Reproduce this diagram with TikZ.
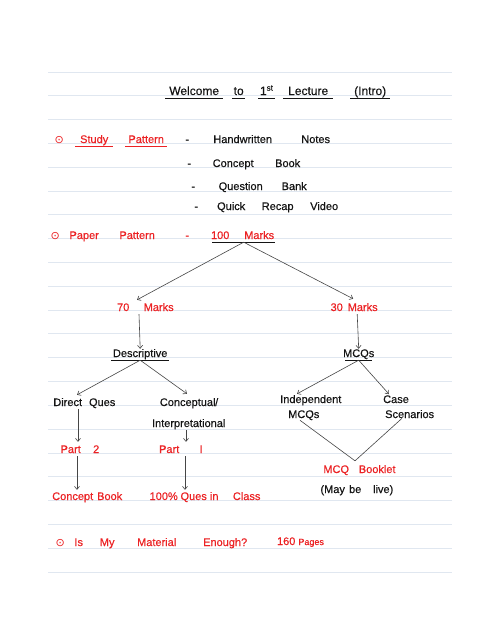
\documentclass[tikz,border=0pt]{standalone}
\usepackage{fontspec}
\setmainfont{Liberation Sans}[FakeBold=0.4]
\newfontfamily\symfont{DejaVu Sans}
\usetikzlibrary{arrows.meta,calc}
\definecolor{ink}{RGB}{20,20,20}
\definecolor{pen}{RGB}{236,34,36}
\definecolor{ruleline}{RGB}{224,231,240}
\definecolor{stroke}{RGB}{70,70,70}
\newcommand{\hw}[2]{\makebox[#1pt][c]{#2}}
\newcommand{\ulw}[1]{\setbox0=\hbox{#1}\rlap{\rule[-4pt]{\wd0}{0.7pt}}\box0}
\newcommand{\bul}{\hw{10}{\symfont ⊙}}
\begin{document}
\begin{tikzpicture}[x=1pt,y=-1pt,
  txt/.style={inner sep=0pt, text height=8pt, text depth=3pt, font=\fontsize{11}{15}\selectfont, text=ink, anchor=base west},
  redtxt/.style={txt, text=pen},
  ml/.style={inner sep=0pt, font=\fontsize{11}{15}\selectfont, text=ink, align=left, anchor=base west},
  ruled/.style={draw=ruleline, line width=0.9pt},
  arr/.style={draw=stroke, line width=0.6pt, -{Straight Barb[length=3pt,width=5pt]}},
  conn/.style={draw=stroke, line width=0.6pt},
  uline/.style={draw=ink, line width=0.8pt}]
\fill[white] (0,0) rectangle (500,627);
\useasboundingbox (0,0) rectangle (500,627);
% ruled paper
\foreach \k in {0,...,21}{
  \pgfmathsetmacro{\yy}{72+23.81*\k}
  \draw[ruled] (48,\yy) -- (452,\yy);
}
% title
\node[txt, font=\fontsize{12}{14}\selectfont] (title) at (165,95) {\ulw{\hw{58}{Welcome}}\hspace{9pt}\ulw{\hw{13}{to}}\hspace{13pt}\ulw{\hw{17}{1\textsuperscript{st}}}\hspace{8pt}\ulw{\hw{50}{Lecture}}\hspace{17pt}\ulw{\hw{40}{(Intro)}}};
% study pattern
\node[redtxt] (study) at (54,143) {\bul\hspace{11pt}\ulw{\hw{38}{Study}}\hspace{12pt}\ulw{\hw{42}{Pattern}}};
\node[txt] (item1) at (184,143) {\hw{6}{-}\hspace{18pt}\hw{69}{Handwritten}\hspace{21pt}\hw{35}{Notes}};
\node[txt] (item2) at (186,167) {\hw{6}{-}\hspace{21pt}\hw{40}{Concept}\hspace{20pt}\hw{29}{Book}};
\node[txt] (item3) at (190,190) {\hw{6}{-}\hspace{23pt}\hw{43}{Question}\hspace{19pt}\hw{26}{Bank}};
\node[txt] (item4) at (193,210) {\hw{6}{-}\hspace{18pt}\hw{28}{Quick}\hspace{18pt}\hw{29}{Recap}\hspace{18pt}\hw{28}{Video}};
% paper pattern
\node[redtxt] (paper) at (50,239) {\bul\hspace{11pt}\hw{26}{Paper}\hspace{20pt}\hw{40}{Pattern}\hspace{27pt}\hw{6}{-}};
\node[redtxt] (m100) at (212,239) {\hw{16}{100}\hspace{15pt}\hw{32}{Marks}};
\draw[uline] (m100.south west) -- (m100.south east);
\node[redtxt] (m70) at (117,311) {\hw{12}{70}\hspace{14pt}\hw{31}{Marks}};
\node[redtxt] (m30) at (331,311) {\hw{11}{30}\hspace{6pt}\hw{29}{Marks}};
\draw[arr] (m100.south) -- ($(m70.north west)+(20,-3)$);
\draw[arr] (m100.south) -- ($(m30.north)+(-1,-4)$);
\node[txt] (desc) at (111,357) {\hw{58}{Descriptive}};
\draw[uline] (desc.south west) -- (desc.south east);
\node[txt] (mcq) at (345,357) {\hw{27}{MCQs}};
\draw[uline] (mcq.south west) -- (mcq.south east);
\draw[arr] ($(m70.south west)+(22,0)$) -- (desc.north);
\draw[arr] ($(m30.south)+(3,0)$) -- (mcq.north);
% second level
\node[txt] (direct) at (55,406) {\hw{25}{Direct}\hspace{12pt}\hw{20}{Ques}};
\node[txt] (concept) at (165,406) {\hw{45}{Conceptual}\hspace{5pt}\hw{3}{/}};
\node[txt] (interp) at (150,427) {\hw{77}{Interpretational}};
\node[ml] (indep) at (280,418) {Independent\\\hspace{8pt}MCQs};
\node[ml] (case) at (383,418) {Case\\\hspace{2pt}Scenarios};
\draw[arr] (desc.south) -- ($(direct.north west)+(22,-3)$);
\draw[arr] (desc.south) -- ($(concept.north west)+(22,-4)$);
\draw[arr] (mcq.south) -- ($(indep.north west)+(17,-1)$);
\draw[arr] (mcq.south) -- ($(case.north west)+(6,-1)$);
% parts
\node[redtxt] (part2) at (61,453) {\hw{19}{Part}\hspace{10pt}\hw{12}{2}};
\node[redtxt] (part1) at (158,453) {\hw{22}{Part}\hspace{17pt}\hw{8}{I}};
\draw[arr] ($(direct.south west)+(23,0)$) -- ($(part2.north west)+(17,-3)$);
\draw[arr] ($(interp.south west)+(36,0)$) -- ($(part1.north west)+(28,-3)$);
\node[redtxt] (cbook) at (52,500) {\hw{41}{Concept}\hspace{4pt}\hw{25}{Book}};
\node[redtxt] (qclass) at (150,500) {\hw{27}{100\%}\hspace{7pt}\hw{19}{Ques}\hspace{7pt}\hw{8}{in}\hspace{17pt}\hw{23}{Class}};
\draw[arr] ($(part2.south west)+(16,0)$) -- ($(cbook.north west)+(25,-2)$);
\draw[arr] ($(part1.south west)+(27,0)$) -- ($(qclass.north west)+(35,-2)$);
% MCQ booklet
\node[redtxt] (booklet) at (327,473) {\hw{18}{MCQ}\hspace{14pt}\hw{36}{Booklet}};
\node[txt] (live) at (320,493) {\hw{25}{(May}\hspace{4pt}\hw{12}{be}\hspace{12pt}\hw{20}{live)}};
\coordinate (apex) at ($(booklet.north west)+(28,-4)$);
\draw[conn] ($(indep.south west)+(20,0)$) -- (apex) -- ($(case.south west)+(19,0)$);
% material
\node[redtxt] (enough) at (55,546) {\bul\hspace{7pt}\hw{13}{Is}\hspace{14pt}\hw{16}{My}\hspace{20pt}\hw{43}{Material}\hspace{25pt}\hw{44}{Enough?}};
\node[redtxt] (pages) at (279,545) {\hw{14}{160}\hspace{9pt}{\fontsize{9}{10}\selectfont\hw{18}{Pages}}};
\end{tikzpicture}
\end{document}
